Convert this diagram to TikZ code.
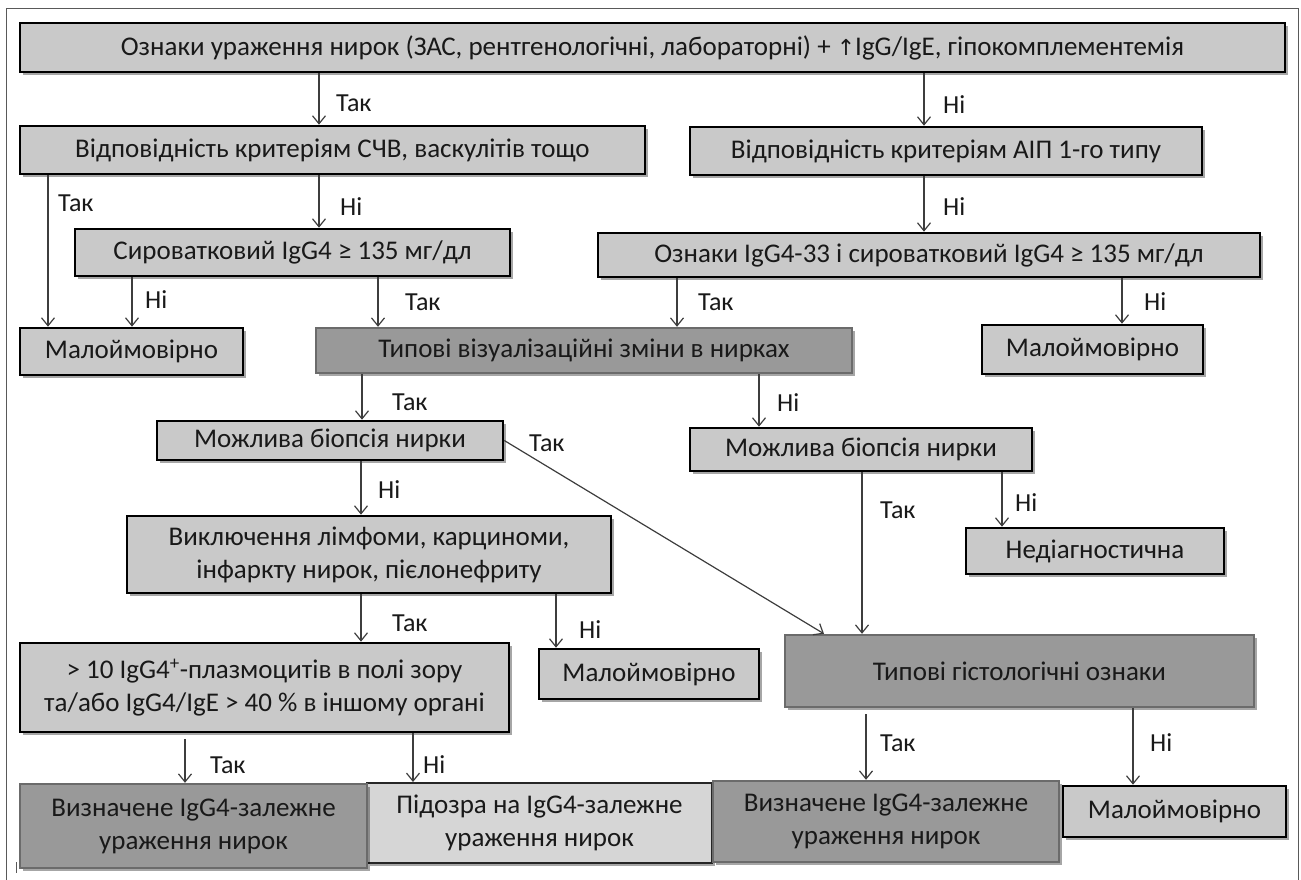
\documentclass[tikz,border=0pt]{standalone}
\usepackage{fontspec}
\setmainfont{Carlito}
\newfontfamily\dejavu{DejaVu Sans}
\usetikzlibrary{arrows.meta,shadows}
\definecolor{boxlight}{rgb}{0.79,0.79,0.79}
\definecolor{boxdark}{rgb}{0.60,0.60,0.60}
\definecolor{boxpale}{rgb}{0.84,0.84,0.84}
\definecolor{darkborder}{rgb}{0.42,0.42,0.42}
\definecolor{linecol}{rgb}{0.24,0.24,0.24}
\definecolor{framecol}{rgb}{0.35,0.35,0.35}
\begin{document}
\begin{tikzpicture}[x=1pt,y=-1pt,
  every node/.style={font=\fontsize{27}{33}\selectfont, text=black!90, inner sep=0pt},
  shad/.style={drop shadow={shadow xshift=3pt,shadow yshift=-3pt,opacity=0.35,fill=black}},
  lbox/.style={draw=black, line width=2.6pt, fill=boxlight, shad, align=center},
  dbox/.style={draw=darkborder, line width=2.4pt, fill=boxdark, shad, align=center},
  pbox/.style={draw=black!85, line width=2pt, fill=boxpale, shad, align=center},
  lbl/.style={anchor=west, text=black!90, font=\fontsize{26}{30}\selectfont},
  arr/.style={draw=linecol, line width=1.2pt, -{Straight Barb[length=8pt,width=13pt,line width=1.2pt]}},
  plain/.style={draw=linecol, line width=1.2pt}
]
\useasboundingbox (0,0) rectangle (1301,879);
\draw[framecol, line width=1pt] (6,890) -- (6,8) -- (1298,8) -- (1298,890);
\draw[framecol, line width=1pt] (16,862) -- (16,873);

% boxes
\node[lbox, minimum width=1265pt, minimum height=49pt] (top) at (652.5,47.5)
  {Ознаки ураження нирок (ЗАС, рентгенологічні, лабораторні) + {\dejavu\fontsize{22}{24}\selectfont ↑}IgG/IgE, гіпокомплементемія};
\node[lbox, minimum width=625pt, minimum height=48pt] (svb) at (332.5,150) {Відповідність критеріям СЧВ, васкулітів тощо};
\node[lbox, minimum width=512pt, minimum height=48pt] (aip) at (946,151) {Відповідність критеріям АІП 1-го типу};
\node[lbox, minimum width=435pt, minimum height=47pt] (syr) at (292.5,252.5) {Сироватковий IgG4 ≥ 135 мг/дл};
\node[lbox, minimum width=662pt, minimum height=44pt] (ozn) at (929,255) {Ознаки IgG4-33 і сироватковий IgG4 ≥ 135 мг/дл};
\node[lbox, minimum width=223pt, minimum height=47pt] (malo1) at (131.5,351.5) {Малоймовірно};
\node[dbox, minimum width=536pt, minimum height=45pt] (tviz) at (584,350.5) {Типові візуалізаційні зміни в нирках};
\node[lbox, minimum width=221pt, minimum height=49pt] (malo2) at (1092.5,349.5) {Малоймовірно};
\node[lbox, minimum width=346pt, minimum height=39pt] (biop1) at (330,440.5) {Можлива біопсія нирки};
\node[lbox, minimum width=342pt, minimum height=43pt] (biop2) at (861,449.5) {Можлива біопсія нирки};
\node[lbox, minimum width=484pt, minimum height=77pt] (vykl) at (369,554.5) {Виключення лімфоми, карциноми,\\ інфаркту нирок, пієлонефриту};
\node[lbox, minimum width=258pt, minimum height=46pt] (nediag) at (1095,551) {Недіагностична};
\node[lbox, minimum width=489pt, minimum height=89pt] (gt) at (264.5,687.5) {> 10 IgG4\textsuperscript{+}-плазмоцитів в полі зору\\ та/або IgG4/IgE > 40 \% в іншому органі};
\node[lbox, minimum width=220pt, minimum height=50pt] (malo3) at (649,674) {Малоймовірно};
\node[dbox, minimum width=469pt, minimum height=72pt] (hist) at (1019.5,671) {Типові гістологічні ознаки};
\node[pbox, minimum width=345pt, minimum height=80pt] (pid) at (539.5,823) {Підозра на IgG4-залежне\\ ураження нирок};
\node[dbox, minimum width=347pt, minimum height=84pt] (vyz1) at (193.5,826) {Визначене IgG4-залежне\\ ураження нирок};
\node[dbox, minimum width=346pt, minimum height=81pt] (vyz2) at (886,821.5) {Визначене IgG4-залежне\\ ураження нирок};
\node[lbox, minimum width=223pt, minimum height=51pt] (malo4) at (1174.5,811.5) {Малоймовірно};

% connectors
\draw[arr] (top.south -| 319,0) -- (svb.north -| 319,0);
\draw[arr] (top.south -| 924,0) -- (aip.north -| 924,0);
\draw[arr] (svb.south -| 319,0) -- (syr.north -| 319,0);
\draw[arr] (svb.south -| 48,0) -- (malo1.north -| 48,0);
\draw[arr] (aip.south -| 924,0) -- (ozn.north -| 924,0);
\draw[arr] (syr.south -| 132,0) -- (malo1.north -| 132,0);
\draw[arr] (syr.south -| 378,0) -- (tviz.north -| 378,0);
\draw[arr] (ozn.south -| 677,0) -- (tviz.north -| 677,0);
\draw[arr] (ozn.south -| 1122,0) -- (malo2.north -| 1122,0);
\draw[arr] (tviz.south -| 362,0) -- (biop1.north -| 362,0);
\draw[arr] (tviz.south -| 759,0) -- (biop2.north -| 759,0);
\draw[arr] (biop1.east) -- (hist.north -| 824,0);
\draw[arr] (biop1.south -| 361,0) -- (vykl.north -| 361,0);
\draw[arr] (biop2.south -| 862,0) -- (hist.north -| 862,0);
\draw[arr] (biop2.south -| 1002,0) -- (nediag.north -| 1002,0);
\draw[arr] (vykl.south -| 361,0) -- (gt.north -| 361,0);
\draw[arr] (vykl.south -| 556,0) -- (malo3.north -| 556,0);
\draw[arr, shorten <=6pt] (gt.south -| 185,0) -- (vyz1.north -| 185,0);
\draw[arr] (gt.south -| 413,0) -- (pid.north -| 413,0);
\draw[arr, shorten <=6pt] (hist.south -| 866,0) -- (vyz2.north -| 866,0);
\draw[arr] (hist.south -| 1133,0) -- (malo4.north -| 1133,0);

% labels
\node[lbl] (l1) at (336,103) {Так};
\node[lbl] (l2) at (943,105) {Ні};
\node[lbl] (l3) at (340,207) {Ні};
\node[lbl] (l4) at (58,203) {Так};
\node[lbl] (l5) at (943,207) {Ні};
\node[lbl] (l6) at (145,300) {Ні};
\node[lbl] (l7) at (405,302) {Так};
\node[lbl] (l8) at (698,302) {Так};
\node[lbl] (l9) at (1144,302) {Ні};
\node[lbl] (l10) at (392,402) {Так};
\node[lbl] (l11) at (777,403) {Ні};
\node[lbl] (l12) at (529,443) {Так};
\node[lbl] (l13) at (378,490) {Ні};
\node[lbl] (l14) at (880,510) {Так};
\node[lbl] (l15) at (1015,503) {Ні};
\node[lbl] (l16) at (392,623) {Так};
\node[lbl] (l17) at (579,630) {Ні};
\node[lbl] (l18) at (210,765) {Так};
\node[lbl] (l19) at (423,765) {Ні};
\node[lbl] (l20) at (880,743) {Так};
\node[lbl] (l21) at (1150,743) {Ні};
\end{tikzpicture}
\end{document}
